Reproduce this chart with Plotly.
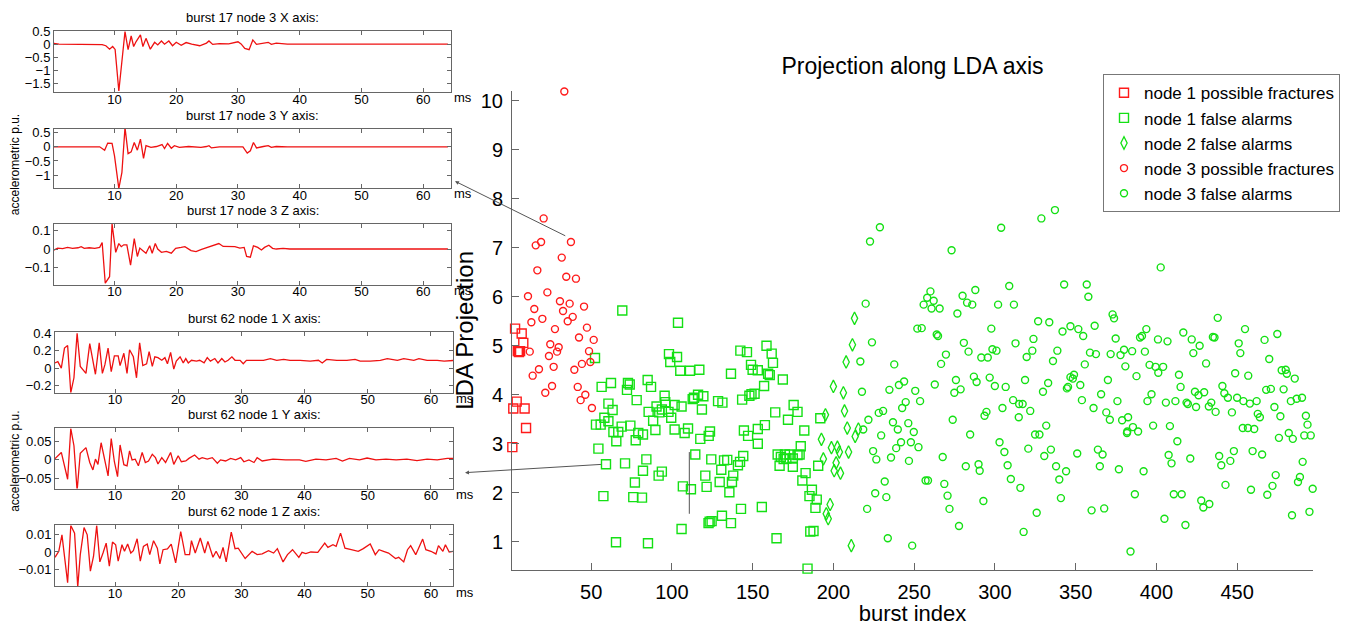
import plotly.graph_objects as go

# ---------------- main scatter data (burst index, LDA projection) ----------------
n1_fract_x = [1.2, 1.8, 2.9, 3.9, 4.6, 5.3, 6.0, 7.0, 8.0, 8.8, 9.7]
n1_fract_y = [2.93, 3.72, 5.35, 3.86, 4.89, 4.87, 4.89, 5.25, 5.06, 3.72, 3.32]

n3_fract_x = [33.4, 20.6, 37.5, 19.0, 15.7, 31.8, 16.7, 34.6, 40.6, 10.9, 22.9, 14.8, 30.7, 36.7,
              32.6, 45.6, 13.0, 19.8, 38.6, 35.5, 27.6, 47.4, 42.5, 51.6, 24.7, 29.9, 12.0, 28.9,
              48.7, 23.9, 13.8, 17.7, 26.8, 39.6, 44.3, 49.5, 21.6, 25.8, 41.7, 46.4, 43.5, 50.5]
n3_fract_y = [10.19, 7.60, 7.12, 7.12, 7.05, 6.80, 6.54, 6.41, 6.37, 6.01, 6.09, 5.75, 5.91, 5.86,
              5.71, 5.80, 5.48, 5.55, 5.59, 5.50, 5.34, 5.37, 5.17, 5.12, 5.03, 4.97, 4.88, 4.88,
              4.89, 4.79, 4.39, 4.52, 4.57, 4.51, 4.63, 4.67, 4.04, 4.18, 4.16, 4.00, 3.89, 3.73]

n1_false_x = [69.3, 103.8, 52.4, 98.2, 103.2, 99.0, 105.2, 111.2, 117.0, 136.6, 142.4, 146.5, 149.0, 150.0,
              56.5, 62.3, 72.8, 73.9, 72.2, 78.2, 85.0, 87.1, 60.7, 63.3, 53.0, 55.9, 58.2, 60.7,
              63.8, 66.8, 65.6, 68.9, 74.3, 79.2, 82.1, 77.6, 85.6, 90.5, 92.2, 95.9, 95.5, 101.7,
              93.8, 97.9, 99.6, 88.4, 89.8, 101.7, 106.0, 107.9, 110.0, 112.9, 113.7, 116.2, 119.5,
              118.6, 117.6, 123.6, 122.8, 128.6, 131.3, 143.5, 148.0, 149.3, 147.2,
              54.5, 59.2, 71.0, 84.2, 82.1, 77.1, 76.1, 81.5, 57.6, 91.8, 93.8, 106.8, 111.8, 114.5,
              124.4, 120.7, 121.5, 129.6, 130.6, 132.3, 134.3, 137.2, 138.0, 140.9, 142.2, 144.2, 135.6,
              65.4, 85.2, 106.0, 122.7, 123.4, 124.6, 131.0, 136.6, 142.8,
              158.6, 161.8, 162.6, 153.2, 159.6, 160.6, 168.7, 157.1, 151.2, 175.4, 164.0, 177.8,
              171.9, 191.9, 157.6, 153.2, 182.0, 144.6, 153.2,
              165.5, 167.5, 170.0, 169.2, 170.9, 172.9, 174.9, 177.8, 179.1, 179.8, 166.7, 174.9,
              190.6, 182.8, 180.8, 186.7, 185.2, 189.7, 188.9, 155.7, 185.7, 187.7, 164.8, 184.0]
n1_false_y = [5.72, 5.47, 4.75, 4.83, 4.77, 4.67, 4.49, 4.49, 4.51, 4.43, 4.90, 4.87, 4.61, 4.51,
              4.16, 4.24, 4.24, 4.21, 4.10, 3.89, 4.30, 4.16, 3.82, 3.69, 3.39, 3.39, 3.53, 3.46,
              3.24, 3.24, 3.05, 3.35, 3.37, 3.22, 3.19, 3.07, 3.65, 3.76, 3.64, 3.85, 3.98, 3.79,
              3.70, 3.65, 3.53, 3.47, 3.28, 3.29, 3.76, 3.22, 3.31, 3.91, 3.94, 4.00, 3.97,
              3.70, 3.10, 3.25, 3.16, 3.87, 3.84, 3.90, 3.98, 4.01, 3.16,
              2.90, 2.58, 2.60, 2.68, 2.45, 2.21, 1.91, 1.90, 1.93, 2.35, 2.43, 2.13, 2.07, 2.78,
              2.68, 2.35, 2.12, 2.22, 2.47, 2.66, 2.67, 2.22, 2.35, 2.56, 2.63, 2.75, 2.01,
              0.99, 0.97, 1.26, 1.38, 1.41, 1.42, 1.53, 1.38, 1.67,
              5.00, 4.84, 4.65, 4.50, 4.43, 4.40, 4.31, 4.18, 4.02, 3.79, 3.64, 3.65,
              3.49, 3.52, 3.38, 3.30, 3.27, 3.27, 3.00,
              2.78, 2.73, 2.78, 2.69, 2.70, 2.78, 2.70, 2.77, 2.78, 2.95, 2.55, 2.53,
              2.55, 2.40, 2.25, 2.06, 1.93, 1.86, 1.69, 1.71, 1.21, 1.22, 1.07, 0.45]

n2_false_x = [213.1, 211.8, 207.9, 200.0, 206.2, 206.9, 195.1, 208.6, 215.5, 213.5, 192.6, 198.8,
              202.5, 203.7, 209.4, 193.8, 201.7, 200.5, 204.4, 198.0, 195.6, 196.8, 211.1]
n2_false_y = [5.56, 5.02, 4.67, 4.17, 4.04, 3.67, 3.59, 3.32, 3.30, 3.15, 3.09, 2.92,
              2.93, 2.83, 2.83, 2.69, 2.61, 2.45, 2.40, 1.76, 1.57, 1.47, 0.92]

n3_false_x = [228.8, 222.7, 273.2, 303.9, 328.8, 337.2, 402.7, 220.0, 260.1, 258.1, 262.1, 255.9,
              260.8, 265.8, 280.0, 282.8, 286.0, 287.9, 276.8, 302.0, 308.9, 311.8, 342.9, 356.9,
              357.9, 252.0, 254.7, 264.0, 264.8, 223.9, 216.7, 237.7, 217.7, 269.7, 266.7, 280.8,
              283.7, 297.8, 291.6, 295.6, 298.5, 301.0, 312.8, 323.9, 326.8, 333.7, 323.2, 319.7,
              336.0, 338.7, 341.9, 346.8, 351.7, 354.7, 361.8, 372.9, 373.8, 374.8, 358.9, 362.6,
              355.7, 371.7, 377.8, 380.0, 385.0, 392.9, 380.8, 387.7, 393.8, 389.9, 391.1, 401.0,
              406.9, 395.8, 399.5, 404.2, 401.2, 416.7, 421.9, 426.8, 422.9, 430.8, 435.0, 436.0,
              438.0, 454.9, 451.0, 452.0, 467.0, 474.9, 469.9, 448.8, 456.9, 477.6, 480.1, 480.8,
              485.7, 414.0, 415.0, 423.9, 426.1, 429.6, 440.9, 442.1, 444.3, 450.0, 453.9, 457.9,
              462.1, 468.0, 470.9, 478.8, 483.3, 486.9, 490.2, 492.6, 493.6, 473.1, 476.8, 462.8,
              464.1, 446.8, 453.5, 456.7, 460.6, 397.0, 394.5, 405.9, 411.8, 418.7, 419.5, 424.6,
              432.5, 434.0, 436.7, 398.0, 408.4, 375.9, 365.8, 370.0, 369.0, 371.2, 378.8, 382.5,
              385.5, 382.0, 361.1, 353.9, 352.9, 345.3, 346.8, 349.0, 348.3, 344.6, 333.0, 329.8,
              318.7, 306.7, 300.0, 296.8, 288.7, 287.0, 278.8, 275.9, 274.9, 262.8, 250.7, 253.7,
              243.8, 240.6, 234.7, 244.8, 242.6, 311.3, 315.0, 317.2, 321.9, 304.7, 314.8, 294.8,
              293.6, 273.9, 331.8, 236.9, 246.4, 228.1, 230.8, 221.7, 239.9, 249.8, 218.5,
              229.6, 241.9, 238.9, 248.0, 252.7, 224.6, 226.6, 235.7, 246.8, 231.8, 225.9, 232.8,
              220.9, 233.7, 248.8, 284.7, 267.7, 257.1, 258.6, 268.7, 270.7, 271.9, 277.8, 282.0,
              289.9, 290.6, 292.9, 302.9, 305.9, 307.9, 309.9, 315.8, 317.8, 320.7, 324.9, 327.6,
              330.6, 334.7, 337.9, 339.9, 344.1, 325.9, 340.9, 351.0, 381.8, 388.7, 363.8, 366.7,
              365.0, 376.8, 392.1, 359.9, 367.7, 386.7, 384.0, 413.0, 407.6, 409.4, 421.0, 410.8,
              415.7, 405.0, 418.0, 427.8, 429.1, 432.8, 438.9, 440.2, 445.8, 448.0, 442.8, 459.6,
              465.5, 458.6, 468.7, 471.9, 473.9, 475.9, 482.0, 484.5, 490.6, 488.9, 487.7, 496.8,
              491.6, 495.6, 484.0, 494.8]
n3_false_y = [7.42, 7.13, 6.95, 7.41, 7.60, 7.77, 6.60, 5.86, 6.11, 5.98, 5.92, 5.84,
              5.76, 5.76, 6.02, 5.88, 5.84, 6.14, 5.66, 5.84, 6.22, 5.84, 6.25, 6.25,
              6.00, 5.35, 5.36, 5.23, 5.20, 5.07, 4.68, 4.62, 4.06, 4.82, 4.63, 5.06,
              4.88, 5.35, 4.76, 4.76, 4.93, 4.90, 5.05, 5.14, 5.50, 5.48, 4.90, 4.77,
              4.69, 4.90, 5.29, 5.40, 5.34, 5.20, 5.41, 5.64, 5.56, 5.15, 4.86, 4.83,
              4.62, 4.83, 4.81, 4.92, 4.89, 4.88, 4.58, 4.38, 5.34, 5.17, 5.20, 5.13,
              5.09, 4.61, 4.57, 4.57, 4.45, 5.27, 5.13, 5.00, 4.85, 4.64, 5.18, 5.17,
              5.57, 5.34, 5.05, 4.85, 5.12, 5.24, 4.73, 4.44, 4.39, 4.50, 4.51, 4.43,
              4.33, 4.41, 4.16, 4.06, 3.99, 4.05, 4.18, 4.03, 3.94, 3.94, 3.87, 3.82,
              3.87, 4.10, 4.12, 4.11, 3.87, 3.92, 3.94, 3.57, 3.39, 3.75, 3.56, 3.61,
              3.54, 3.64, 3.32, 3.32, 3.30, 4.01, 3.87, 3.84, 3.87, 3.84, 3.81, 3.75,
              3.76, 3.84, 3.65, 3.37, 3.36, 3.87, 4.01, 4.30, 3.64, 3.49, 3.48, 3.54,
              3.34, 3.25, 3.73, 3.89, 4.20, 4.16, 4.36, 4.41, 4.33, 4.13, 4.24, 4.06,
              4.30, 4.16, 4.18, 4.35, 4.26, 4.37, 4.11, 4.30, 4.04, 4.21, 4.08, 3.87,
              4.27, 4.20, 4.10, 3.85, 3.73, 3.89, 3.81, 3.81, 3.67, 3.73, 3.54, 3.65,
              3.57, 3.49, 3.37, 3.44, 3.42, 3.63, 3.67, 3.49, 3.29, 3.24, 3.29,
              3.17, 3.03, 2.91, 3.03, 2.93, 2.85, 2.68, 2.72, 2.65, 2.23, 1.99, 1.91,
              1.67, 1.07, 0.92, 3.19, 2.73, 2.25, 2.25, 2.18, 1.94, 1.67, 1.32, 2.54,
              2.58, 2.45, 1.83, 3.03, 2.83, 2.56, 2.28, 2.10, 1.20, 2.90, 3.19, 3.19,
              2.75, 2.88, 2.54, 2.27, 2.44, 1.59, 1.89, 2.80, 3.22, 3.25, 2.88, 2.78,
              2.54, 2.48, 2.44, 1.64, 1.68, 1.97, 0.80, 3.05, 2.77, 2.60, 2.70, 1.97,
              1.97, 1.47, 1.34, 1.84, 1.70, 1.77, 2.75, 2.56, 2.65, 2.85, 2.16, 2.85,
              2.78, 2.06, 1.96, 2.14, 2.36, 3.12, 3.22, 3.10, 2.63, 2.32, 2.22, 2.08,
              3.17, 3.17, 1.54, 1.61]

# ---------------- waveform data (time in ms, accelerometric p.u.) ----------------
b17x_t = [0, 1, 8.0, 8.6, 9.2, 9.7, 10.1, 10.7, 11.7, 12.2, 12.7, 13.1, 13.5, 14.2, 14.6, 15.1, 15.8,
          16.5, 17.0, 17.6, 18.1, 18.8, 19.4, 20.0, 20.8, 21.6, 22.5, 23.8, 24.9, 25.3, 25.9, 27.0,
          28.5, 29.2, 30.0, 30.5, 31.1, 31.8, 32.4, 33.0, 34.1, 34.9, 35.4, 36.2, 38.0, 40.0, 64.0]
b17x_v = [0.03, 0.0, -0.02, -0.06, -0.19, -0.09, -0.2, -1.78, 0.48, -0.21, 0.31, -0.09, 0.1, 0.35,
          -0.09, 0.22, -0.19, 0.07, -0.03, 0.12, 0.0, 0.12, -0.06, 0.07, -0.04, 0.06, 0.0, -0.06,
          0.04, 0.12, -0.01, 0.02, 0.01, 0.04, 0.09, 0.01, -0.16, -0.21, 0.16, -0.01, 0.04, 0.07,
          -0.01, 0.04, 0.0, 0.0, 0.0]

b17y_t = [0, 7.6, 8.4, 8.9, 9.6, 10.0, 10.7, 11.2, 11.7, 12.2, 12.7, 13.2, 13.7, 14.2, 14.7, 15.1,
          15.9, 16.8, 17.7, 18.1, 18.6, 19.2, 19.7, 20.5, 22.0, 24.0, 24.9, 25.3, 25.7, 27.0, 29.2,
          30.8, 31.5, 32.0, 32.5, 33.0, 34.1, 34.9, 35.4, 36.2, 38.0, 64.0]
b17y_v = [0.0, 0.0, -0.12, 0.13, 0.12, -0.32, -1.47, -0.9, 0.68, -0.24, -0.18, 0.15, -0.12, 0.27,
          -0.41, 0.04, -0.02, 0.01, 0.08, -0.06, 0.12, -0.05, 0.04, -0.02, 0.01, -0.02, 0.01, 0.04,
          -0.04, 0.0, 0.0, 0.0, -0.22, -0.14, 0.15, -0.04, 0.01, 0.04, -0.02, 0.01, 0.0, 0.0]

b17z_t = [0, 0.8, 1.6, 2.4, 3.2, 4.1, 4.6, 5.1, 5.9, 6.8, 7.6, 8.0, 8.5, 9.2, 9.6, 10.2, 10.7, 11.1,
          11.5, 12.0, 12.6, 13.2, 13.7, 14.1, 14.6, 15.1, 15.7, 16.1, 16.6, 17.0, 17.6, 18.4, 19.2,
          19.9, 20.8, 21.4, 22.4, 23.2, 24.1, 25.1, 26.2, 26.9, 27.6, 28.6, 29.5, 30.3, 31.0, 31.4,
          32.0, 32.5, 33.2, 33.8, 34.3, 35.0, 35.6, 36.2, 37.3, 38.4, 40.5, 42.0, 64.0]
b17z_v = [-0.009, 0.005, 0.002, 0.009, 0.004, 0.007, 0.013, 0.004, 0.007, 0.004, 0.009, 0.036,
          -0.188, -0.152, 0.138, -0.018, 0.03, 0.013, 0.023, 0.023, -0.089, 0.057, -0.041, 0.005,
          -0.009, -0.023, 0.018, -0.023, 0.03, 0.0, -0.018, -0.013, -0.023, 0.004, 0.009, 0.013,
          -0.009, -0.014, -0.002, 0.009, 0.018, 0.03, 0.014, 0.013, 0.013, 0.005, 0.009, -0.041,
          -0.045, 0.018, 0.009, -0.005, 0.009, 0.021, 0.004, 0.0, 0.004, 0.0, 0.002, 0.0, 0.0]

b62x_t = [0.4, 0.95, 1.5, 2.0, 2.5, 3.0, 3.5, 4.0, 4.5, 5.0, 5.4, 6.0, 6.5, 6.9, 7.5, 8.0, 8.4, 8.9,
          9.4, 9.9, 10.5, 10.8, 11.4, 11.9, 12.3, 12.9, 13.4, 13.9, 14.4, 15.0, 15.4, 15.9, 16.3,
          16.8, 17.4, 17.9, 18.3, 18.8, 19.3, 19.7, 20.3, 20.8, 21.2, 21.6, 22.1, 22.9, 23.4, 24.1,
          24.6, 25.1, 25.8, 26.3, 26.9, 27.4, 27.9, 28.5, 29.0, 29.8, 30.3, 30.8, 31.9, 33.5, 34.6,
          35.6, 36.7, 37.7, 39.3, 40.9, 42.2, 42.8, 43.5, 45.1, 46.7, 48.0, 48.8, 50.4, 52.0, 53.1,
          54.7, 55.7, 57.3, 58.1, 59.4, 61.0, 62.1, 63.4, 64.0]
b62x_v = [0.057, 0.075, 0.0, 0.23, 0.26, -0.28, -0.11, 0.40, 0.02, -0.02, -0.06, 0.28, 0.09, -0.07,
          0.29, -0.06, 0.04, 0.23, -0.04, 0.14, 0.14, 0.03, 0.17, -0.06, 0.21, 0.13, -0.11, 0.29,
          0.03, 0.05, 0.19, 0.02, 0.13, 0.12, 0.09, 0.12, 0.05, 0.18, -0.01, 0.08, 0.13, 0.06, 0.11,
          0.06, 0.09, 0.08, 0.09, 0.06, 0.12, 0.08, 0.11, 0.06, 0.11, 0.07, 0.09, 0.13, 0.09, 0.09,
          0.05, 0.09, 0.09, 0.09, 0.11, 0.09, 0.10, 0.09, 0.09, 0.08, 0.09, 0.06, 0.10, 0.09, 0.09,
          0.10, 0.08, 0.08, 0.09, 0.11, 0.09, 0.11, 0.09, 0.11, 0.09, 0.09, 0.08, 0.09, 0.09]

b62y_t = [0.4, 1.5, 2.5, 3.0, 3.5, 4.0, 4.5, 5.4, 6.0, 6.5, 6.9, 7.3, 7.8, 8.4, 8.9, 9.4, 9.9, 10.4,
          10.8, 11.4, 11.9, 12.3, 12.7, 13.2, 13.7, 14.3, 14.8, 15.3, 15.9, 16.4, 16.8, 17.4, 18.0,
          18.8, 19.3, 20.0, 20.5, 21.2, 21.7, 22.6, 23.3, 23.8, 24.6, 25.4, 26.2, 26.7, 27.5, 28.3,
          29.1, 29.9, 30.4, 31.2, 32.0, 32.5, 33.3, 35.0, 37.0, 39.2, 40.2, 41.8, 43.4, 45.0, 46.0,
          47.1, 48.7, 49.9, 51.3, 52.9, 54.5, 56.2, 57.8, 59.4, 61.0, 62.6, 63.6]
b62y_v = [0.002, 0.020, -0.052, 0.084, 0.038, -0.083, 0.018, 0.033, -0.007, -0.027, 0.002, -0.012,
          0.046, 0.0, -0.043, 0.057, -0.005, -0.045, 0.04, -0.013, -0.016, 0.024, 0.0, 0.002,
          -0.016, 0.02, -0.007, -0.003, 0.015, 0.006, -0.011, 0.006, -0.007, 0.02, -0.012, 0.011,
          -0.005, -0.003, 0.004, 0.013, 0.002, 0.006, 0.002, 0.006, -0.009, 0.0, -0.003, 0.004,
          0.0, 0.006, -0.005, 0.0, -0.007, 0.006, -0.003, 0.002, 0.0, 0.0, -0.004, 0.002, 0.0,
          0.004, -0.003, 0.004, 0.0, 0.005, 0.0, 0.002, 0.0, 0.002, -0.002, 0.002, 0.0, 0.004, 0.004]

b62z_t = [0.5, 1.1, 1.6, 2.1, 2.5, 3.0, 3.6, 4.1, 4.5, 5.1, 5.6, 6.1, 6.6, 7.1, 7.6, 8.1, 8.6, 9.1,
          9.6, 10.1, 10.5, 11.1, 11.5, 12.0, 12.5, 12.9, 13.5, 14.0, 14.5, 15.1, 15.5, 16.1, 16.7,
          17.1, 17.6, 18.3, 18.9, 19.6, 20.4, 21.1, 21.8, 22.1, 22.7, 23.5, 24.2, 24.7, 25.5, 26.0,
          26.6, 27.1, 27.6, 28.4, 29.0, 29.5, 30.6, 31.7, 32.5, 33.3, 34.3, 35.1, 35.7, 36.6, 37.3,
          38.1, 39.1, 39.6, 40.2, 41.0, 42.1, 43.2, 43.7, 44.5, 45.0, 45.7, 46.4, 47.4, 48.5, 49.3,
          50.4, 51.2, 51.8, 52.5, 53.3, 54.4, 54.9, 55.7, 56.3, 56.8, 57.6, 58.7, 59.2, 60.0, 60.8,
          61.2, 61.9, 62.3, 62.9, 63.7, 64.1]
b62z_v = [-0.0030, 0.0004, 0.0097, -0.0062, -0.0174, 0.0150, 0.0106, -0.0198, -0.0015, 0.0138,
          0.0097, -0.0108, -0.0024, 0.0150, -0.0056, -0.0006, 0.0050, -0.0080, 0.0056, 0.0041,
          -0.0052, 0.0041, 0.0004, 0.0045, -0.0006, 0.0007, 0.0075, -0.0052, 0.0032, 0.0045,
          -0.0015, 0.0064, 0.0022, -0.0067, 0.0013, 0.0017, 0.0045, -0.0062, 0.0116, -0.0015,
          -0.0015, 0.0064, -0.0006, 0.0079, -0.0006, 0.0060, -0.0030, 0.0004, -0.0037, 0.0026,
          -0.0056, 0.0112, 0.0019, 0.0022, -0.0037, 0.0004, -0.0015, -0.0011, 0.0007, -0.0006,
          0.0019, -0.0056, -0.0015, 0.0013, -0.0030, -0.0002, -0.0009, 0.0000, -0.0002, 0.0050,
          0.0026, 0.0041, 0.0032, 0.0107, 0.0022, 0.0013, 0.0004, 0.0019, 0.0045, -0.0015, 0.0013,
          0.0004, -0.0006, -0.0037, -0.0030, -0.0056, 0.0013, 0.0036, -0.0015, 0.0073, 0.0013,
          0.0004, -0.0011, 0.0036, 0.0004, 0.0041, 0.0000, 0.0004, -0.0011]

panel_titles = ["burst 17 node 3 X axis:", "burst 17 node 3 Y axis:", "burst 17 node 3 Z axis:",
                "burst 62 node 1 X axis:", "burst 62 node 1 Y axis:", "burst 62 node 1 Z axis:"]
panel_t = [b17x_t, b17y_t, b17z_t, b62x_t, b62y_t, b62z_t]
panel_v = [b17x_v, b17y_v, b17z_v, b62x_v, b62y_v, b62z_v]
panel_yrange = [[-1.82, 0.51], [-1.45, 0.64], [-0.197, 0.14], [-0.28, 0.41], [-0.077, 0.085], [-0.0195, 0.0152]]
panel_dtick = [0.5, 0.5, 0.1, 0.2, 0.05, 0.01]

# ---------------- layout geometry ----------------
W, H = 1358, 626
FONT = "Liberation Sans, Arial, sans-serif"
RED = "#ff1a1a"
GREEN = "#14e014"
AX = "#666666"

# pixel boxes (left, right, top, bottom) for the six small panels
panel_box = [(54, 451, 24, 86), (54, 451, 123, 183), (54, 451, 219, 281),
             (55, 453, 329, 390), (55, 453, 426, 487), (55, 453, 524, 586)]
panel_xrange = [[0.2, 64.5]] * 3 + [[0.5, 63.5]] * 3

fig = go.Figure()

# main scatter traces
common = dict(mode="markers", cliponaxis=False)
fig.add_trace(go.Scatter(x=n1_fract_x, y=n1_fract_y, name="node 1 possible fractures", **common,
                         marker=dict(symbol="square-open", size=9, color=RED, line=dict(width=1.4))))
fig.add_trace(go.Scatter(x=n1_false_x, y=n1_false_y, name="node 1 false alarms", **common,
                         marker=dict(symbol="square-open", size=9, color=GREEN, line=dict(width=1.4))))
fig.add_trace(go.Scatter(x=n2_false_x, y=n2_false_y, name="node 2 false alarms", **common,
                         marker=dict(symbol="diamond-tall-open", size=9, color=GREEN, line=dict(width=1.3))))
fig.add_trace(go.Scatter(x=n3_fract_x, y=n3_fract_y, name="node 3 possible fractures", **common,
                         marker=dict(symbol="circle-open", size=7, color=RED, line=dict(width=1.4))))
fig.add_trace(go.Scatter(x=n3_false_x, y=n3_false_y, name="node 3 false alarms", **common,
                         marker=dict(symbol="circle-open", size=7, color=GREEN, line=dict(width=1.4))))

layout_axes = {}
annotations = []
for i in range(6):
    k = i + 2
    l, r, t, b = panel_box[i]
    xd = [l / W, r / W]
    yd = [(H - b) / H, (H - t) / H]
    fig.add_trace(go.Scatter(x=panel_t[i], y=panel_v[i], mode="lines", showlegend=False,
                             line=dict(color="#ee1111", width=1.3), xaxis=f"x{k}", yaxis=f"y{k}"))
    layout_axes[f"xaxis{k}"] = dict(domain=xd, anchor=f"y{k}", range=panel_xrange[i], tick0=10, dtick=10,
                                    showline=True, mirror="ticks", linecolor=AX, linewidth=1,
                                    ticks="inside", ticklen=4, tickcolor=AX, showgrid=False, zeroline=False,
                                    ticklabelstandoff=-5,
                                    tickfont=dict(size=13, color="black", family=FONT))
    layout_axes[f"yaxis{k}"] = dict(domain=yd, anchor=f"x{k}", range=panel_yrange[i], tick0=0,
                                    dtick=panel_dtick[i], showline=True, mirror="ticks", linecolor=AX,
                                    linewidth=1, ticks="inside", ticklen=4, tickcolor=AX, showgrid=False,
                                    zeroline=False, tickfont=dict(size=13, color="black", family=FONT))
    annotations.append(dict(text=panel_titles[i], xref="paper", yref="paper", x=(l + r) / 2 / W,
                            y=(H - t + 4) / H, xanchor="center", yanchor="bottom", showarrow=False,
                            font=dict(size=13, color="black", family=FONT)))
    annotations.append(dict(text="ms", xref="paper", yref="paper", x=(r + 1) / W, y=(H - b - 6) / H,
                            xanchor="left", yanchor="middle", showarrow=False,
                            font=dict(size=13, color="black", family=FONT)))

for yc in (160, 460):
    annotations.append(dict(text="accelerometric p.u.", xref="paper", yref="paper", x=15 / W,
                            y=(H - yc) / H, xanchor="center", yanchor="middle", textangle=-90,
                            showarrow=False, font=dict(size=12, color="black", family=FONT)))

# arrows from selected bursts to their waveform panels
annotations.append(dict(x=-34.3, y=8.36, xref="x", yref="y", ax=34.9, ay=7.23, axref="x", ayref="y",
                        text="", showarrow=True, arrowhead=2, arrowsize=0.8, arrowwidth=1, arrowcolor="#555"))
annotations.append(dict(x=-28.1, y=2.41, xref="x", yref="y", ax=57.0, ay=2.58, axref="x", ayref="y",
                        text="", showarrow=True, arrowhead=2, arrowsize=0.8, arrowwidth=1, arrowcolor="#555"))

fig.add_shape(type="line", xref="x", yref="y", x0=110.8, x1=110.8, y0=1.57, y1=2.83,
              line=dict(color="#555", width=1))

main_l, main_r, main_t, main_b = 512, 1313, 85, 569
fig.update_layout(
    width=W, height=H, margin=dict(l=0, r=0, t=0, b=0),
    paper_bgcolor="white", plot_bgcolor="white",
    font=dict(family=FONT, color="black"),
    title=dict(text="Projection along LDA axis", x=(main_l + main_r) / 2 / W, xanchor="center",
               y=(H - 66) / H, yanchor="middle", font=dict(size=23, color="black", family=FONT)),
    xaxis=dict(domain=[main_l / W, main_r / W], anchor="y", range=[1, 497], tick0=0, dtick=50,
               showline=True, linecolor=AX, linewidth=1, ticks="inside", ticklen=7, tickcolor=AX,
               showgrid=False, zeroline=False, tickfont=dict(size=20, color="black"),
               ticklabelstandoff=4,
               title=dict(text="burst index", font=dict(size=22, color="black"), standoff=2)),
    yaxis=dict(domain=[(H - main_b) / H, (H - main_t) / H], anchor="x", range=[0.43, 10.2], tick0=0,
               dtick=1, showline=True, linecolor=AX, linewidth=1, ticks="inside", ticklen=7,
               tickcolor=AX, showgrid=False, zeroline=False, tickfont=dict(size=20, color="black"),
               ticklabelstandoff=4,
               title=dict(text="LDA Projection", font=dict(size=24, color="black"), standoff=0)),
    legend=dict(x=1103 / W, y=(H - 68) / H, xanchor="left", yanchor="top", bgcolor="white",
                bordercolor="#777", borderwidth=1, font=dict(size=17, color="black", family=FONT),
                itemwidth=30, tracegroupgap=0),
    annotations=annotations,
    showlegend=True,
    **layout_axes,
)

fig.write_html("out.html", config={"displayModeBar": False},
               post_script="document.body.style.margin='0px';document.body.style.overflow='hidden';")
